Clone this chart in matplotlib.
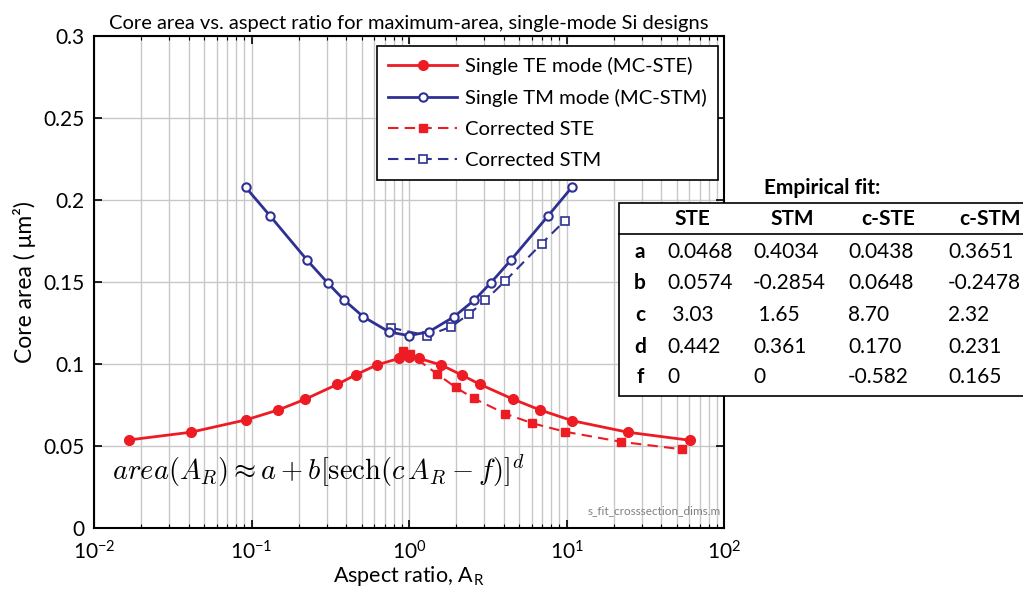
import math
import matplotlib
matplotlib.use("Agg")
import matplotlib.pyplot as plt
from matplotlib.patches import Rectangle
from matplotlib.lines import Line2D
from matplotlib.ticker import LogLocator, FixedLocator, FuncFormatter

plt.rcParams['font.family'] = ['Lato', 'DejaVu Sans']
plt.rcParams['mathtext.fontset'] = 'cm'

# ---- data ----
ar_ste = [0.0167, 0.0412, 0.092, 0.148, 0.219, 0.351, 0.461, 0.624, 0.868, 1.0,
          1.15, 1.6, 2.16, 2.82, 4.59, 6.78, 10.9, 24.5, 60.7]
area_ste = [0.0537, 0.0584, 0.0659, 0.0720, 0.0785, 0.0876, 0.0935, 0.0994, 0.1035, 0.1045,
            0.1035, 0.0994, 0.0933, 0.0876, 0.0785, 0.0720, 0.0654, 0.0584, 0.0535]

ar_stm = [0.092, 0.132, 0.226, 0.305, 0.387, 0.513, 0.75, 1.0, 1.34, 1.93, 2.6, 3.3, 4.42, 7.59, 10.8]
area_stm = [0.2077, 0.190, 0.1632, 0.1494, 0.139, 0.1288, 0.1195, 0.1173, 0.1197, 0.1288,
            0.139, 0.1494, 0.1632, 0.190, 0.2077]

ar_cste = [0.912, 1.02, 1.51, 1.98, 2.57, 4.06, 6.05, 9.8, 22.1, 53.8]
area_cste = [0.1079, 0.1059, 0.0939, 0.0857, 0.0791, 0.0698, 0.0639, 0.0587, 0.0526, 0.0480]

ar_cstm = [0.769, 1.31, 1.85, 2.41, 3.05, 4.08, 6.95, 9.77]
area_cstm = [0.1221, 0.1173, 0.1227, 0.1305, 0.1388, 0.1506, 0.1734, 0.1874]

legend_labels = ["Single TE mode (MC-STE)", "Single TM mode (MC-STM)",
                 "Corrected STE", "Corrected STM"]

table_cols = ["STE", "STM", "c-STE", "c-STM"]
table_rows = ["a", "b", "c", "d", "f"]
table_vals = [["0.0468", "0.4034", "0.0438", "0.3651"],
              ["0.0574", "-0.2854", "0.0648", "-0.2478"],
              [" 3.03", " 1.65", "8.70", "2.32"],
              ["0.442", "0.361", "0.170", "0.231"],
              ["0", "0", "-0.582", "0.165"]]

y_ticks = [0, 0.05, 0.1, 0.15, 0.2, 0.25, 0.3]
y_tick_labels = ["0", "0.05", "0.1", "0.15", "0.2", "0.25", "0.3"]

RED = '#ED1C24'
BLUE = '#2E3192'

W, H = 1023, 592
fig = plt.figure(figsize=(W / 100, H / 100), dpi=100)
ax = fig.add_axes([94 / W, 1 - 528 / H, (724 - 94) / W, (528 - 36) / H])

ax.plot(ar_ste, area_ste, '-', color=RED, lw=2.0, marker='o', ms=7,
        mfc=RED, mec=RED, label=legend_labels[0], zorder=4)
ax.plot(ar_stm, area_stm, '-', color=BLUE, lw=2.0, marker='o', ms=6,
        mfc='white', mec=BLUE, mew=1.5, label=legend_labels[1], zorder=4)
ax.plot(ar_cste, area_cste, '--', color=RED, lw=1.5, marker='s', ms=5.5,
        mfc=RED, mec=RED, label=legend_labels[2], zorder=3, dashes=(5, 3))
ax.plot(ar_cstm, area_cstm, '--', color=BLUE, lw=1.5, marker='s', ms=5.5,
        mfc='white', mec=BLUE, mew=1.2, label=legend_labels[3], zorder=3, dashes=(5, 3))

ax.set_xscale('log')
ax.set_xlim(1e-2, 1e2)
ax.set_ylim(0, 0.3)
ax.xaxis.set_major_locator(LogLocator(base=10, numticks=10))
ax.xaxis.set_minor_locator(LogLocator(base=10, subs=range(2, 10), numticks=50))
ax.xaxis.set_major_formatter(FuncFormatter(lambda v, p: r'$\mathregular{10^{%d}}$' % round(math.log10(v))))
ax.yaxis.set_major_locator(FixedLocator(y_ticks))
ax.set_yticklabels(y_tick_labels)

ax.grid(True, which='major', color='#c8c8c8', lw=1.0)
ax.grid(True, which='minor', axis='x', color='#c8c8c8', lw=1.0)
ax.set_axisbelow(True)
ax.tick_params(which='both', direction='in', top=True, right=True, labelsize=15, color='black')
ax.tick_params(axis='x', pad=9)
ax.tick_params(axis='y', pad=7)
ax.tick_params(which='major', length=6, width=1.2)
ax.tick_params(which='minor', length=3, width=0.8)
for s in ax.spines.values():
    s.set_linewidth(1.5)

ax.set_title("Core area vs. aspect ratio for maximum-area, single-mode Si designs",
             fontsize=14.5, pad=5)
ax.set_xlabel(r"Aspect ratio, A$_\mathregular{R}$", fontsize=15.5, labelpad=0)
ax.set_ylabel("Core area ( μm²)", fontsize=16.5, labelpad=5)

leg = ax.legend(loc='upper left', bbox_to_anchor=(377 / W, 1 - 46 / H),
                bbox_transform=fig.transFigure, borderaxespad=0, fancybox=False,
                framealpha=1, edgecolor='black', fontsize=14.6, handlelength=3.4,
                labelspacing=0.68, borderpad=0.55, handletextpad=0.4)
leg.get_frame().set_linewidth(1.2)

ax.text(0.028, 0.115, r'$area(A_R) \approx a + b[\mathrm{sech}(c\,A_R - f)]^d$',
        transform=ax.transAxes, fontsize=20.5, va='center', ha='left')
ax.text(0.995, 0.025, "s_fit_crosssection_dims.m", transform=ax.transAxes,
        fontsize=8.5, color='#808080', ha='right', va='bottom')

# ---- empirical fit table ----
tl, tt, tb = 619, 203, 396
fig.patches.append(Rectangle((tl / W, 1 - tb / H), (W + 5 - tl) / W, (tb - tt) / H,
                             transform=fig.transFigure, facecolor='white',
                             edgecolor='black', lw=1.2, zorder=5))
fig.lines.append(Line2D([tl / W, 1.0], [1 - 234 / H, 1 - 234 / H],
                        transform=fig.transFigure, color='black', lw=1.2, zorder=6))
fig.text(822 / W, 1 - 188 / H, "Empirical fit:", fontsize=15, fontweight='bold',
         ha='center', va='center', zorder=7)
col_centers = [692, 792, 888, 990]
col_lefts = [667, 753, 848, 948]
for cx, name in zip(col_centers, table_cols):
    fig.text(cx / W, 1 - 219 / H, name, fontsize=15, fontweight='bold',
             ha='center', va='center', zorder=7)
row_ys = [252, 283, 315, 347, 377]
for ry, rname, vals in zip(row_ys, table_rows, table_vals):
    fig.text(640 / W, 1 - ry / H, rname, fontsize=15, fontweight='bold',
             ha='center', va='center', zorder=7)
    for cl, v in zip(col_lefts, vals):
        fig.text(cl / W, 1 - ry / H, v, fontsize=15, ha='left', va='center', zorder=7)

fig.savefig("out.png", dpi=100)
